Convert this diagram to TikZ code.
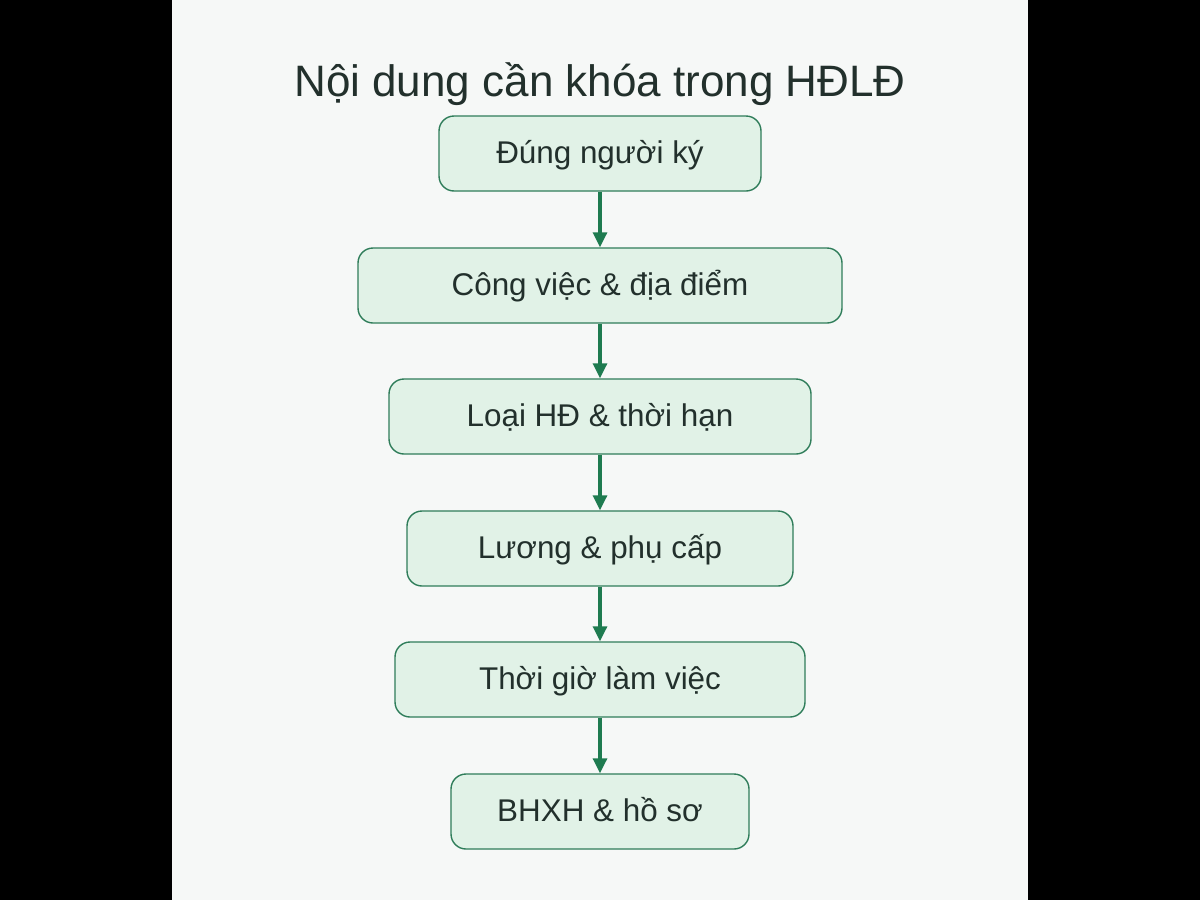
\documentclass[tikz,border=0pt]{standalone}
\usepackage{fontspec}
\setmainfont{Liberation Sans}
\usetikzlibrary{arrows.meta}
\definecolor{bgc}{HTML}{F6F8F7}
\definecolor{boxfill}{HTML}{E1F2E7}
\definecolor{boxline}{HTML}{2F7D5A}
\definecolor{arrc}{HTML}{1E7B50}
\definecolor{txt}{HTML}{22302C}
\tikzset{
  stepbox/.style={draw=boxline, line width=1.4pt, fill=boxfill, rounded corners=15pt,
    minimum height=75pt, inner sep=0pt, text=txt, font=\fontsize{31.4}{36}\selectfont,
    text height=26pt, text depth=5.4pt},
  flow/.style={draw=arrc, line width=3.2pt, -{Triangle[length=15pt,width=14pt]}}
}
\begin{document}
\begin{tikzpicture}[x=1pt,y=-1pt]
\useasboundingbox (0,0) rectangle (1200,900);
\fill[black] (0,0) rectangle (1200,900);
\fill[bgc] (172,0) rectangle (1028,900);
\node[text=txt, font=\fontsize{44}{50}\selectfont] (title) at (600,84) {Nội dung cần khóa trong HĐLĐ};
\node[stepbox, minimum width=322pt] (n1) at (600,153.5) {Đúng người ký};
\node[stepbox, minimum width=484pt] (n2) at (600,285.5) {Công việc \& địa điểm};
\node[stepbox, minimum width=422pt] (n3) at (600,416.5) {Loại HĐ \& thời hạn};
\node[stepbox, minimum width=386pt] (n4) at (600,548.5) {Lương \& phụ cấp};
\node[stepbox, minimum width=410pt] (n5) at (600,679.5) {Thời giờ làm việc};
\node[stepbox, minimum width=298pt] (n6) at (600,811.5) {BHXH \& hồ sơ};
\draw[flow] (n1) -- (n2);
\draw[flow] (n2) -- (n3);
\draw[flow] (n3) -- (n4);
\draw[flow] (n4) -- (n5);
\draw[flow] (n5) -- (n6);
\end{tikzpicture}
\end{document}
